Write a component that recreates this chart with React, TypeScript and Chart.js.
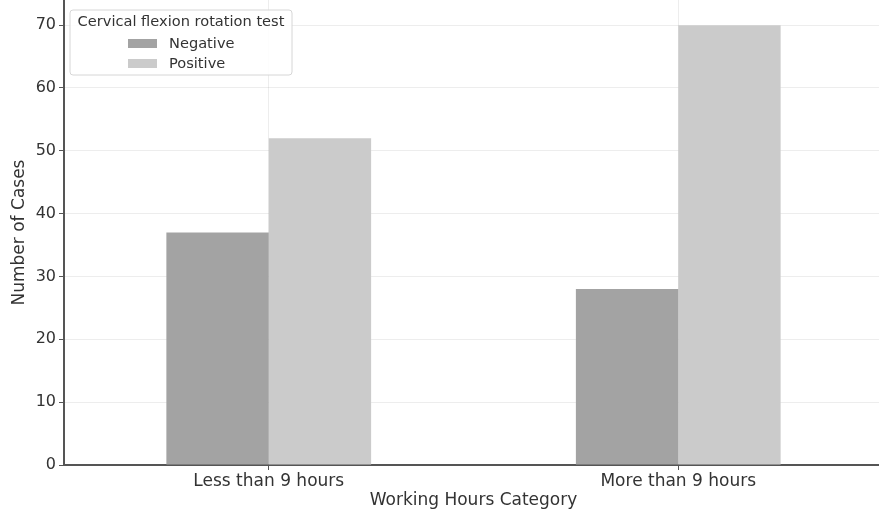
import React, { useEffect, useRef } from "react";
import { Chart, registerables } from "chart.js";

Chart.register(...registerables);

const categories = ["Less than 9 hours", "More than 9 hours"];
const negativeValues = [37, 28];
const positiveValues = [52, 70];
const seriesLabels = ["Negative", "Positive"];
const legendTitle = "Cervical flexion rotation test";
const xTitle = "Working Hours Category";
const yTitle = "Number of Cases";

const FONT = "'DejaVu Sans', sans-serif";

const legendPlugin = {
  id: "insideLegend",
  afterDraw(chart: any) {
    const { ctx, chartArea } = chart;
    const x0 = chartArea.left + 6;
    const y0 = chartArea.top + 10;
    const w = 222;
    const h = 65;
    ctx.save();
    ctx.fillStyle = "rgba(255,255,255,0.85)";
    ctx.strokeStyle = "#d6d6d6";
    ctx.lineWidth = 1;
    ctx.beginPath();
    const r = 3;
    ctx.moveTo(x0 + r, y0);
    ctx.lineTo(x0 + w - r, y0);
    ctx.quadraticCurveTo(x0 + w, y0, x0 + w, y0 + r);
    ctx.lineTo(x0 + w, y0 + h - r);
    ctx.quadraticCurveTo(x0 + w, y0 + h, x0 + w - r, y0 + h);
    ctx.lineTo(x0 + r, y0 + h);
    ctx.quadraticCurveTo(x0, y0 + h, x0, y0 + h - r);
    ctx.lineTo(x0, y0 + r);
    ctx.quadraticCurveTo(x0, y0, x0 + r, y0);
    ctx.closePath();
    ctx.fill();
    ctx.stroke();
    ctx.fillStyle = "#333";
    ctx.font = `14.6px ${FONT}`;
    ctx.textBaseline = "middle";
    ctx.textAlign = "center";
    ctx.fillText(legendTitle, x0 + w / 2, y0 + 12);
    ctx.textAlign = "left";
    chart.data.datasets.forEach((ds: any, i: number) => {
      const yy = y0 + 33 + i * 20;
      ctx.fillStyle = ds.backgroundColor;
      ctx.fillRect(x0 + 58, yy - 4, 29, 9);
      ctx.fillStyle = "#333";
      ctx.fillText(ds.label, x0 + 99, yy + 1);
    });
    ctx.restore();
  },
};

export default function App() {
  const ref = useRef<HTMLCanvasElement | null>(null);
  useEffect(() => {
    document.body.style.margin = "0";
    const canvas = ref.current!;
    const chart = new Chart(canvas, {
      type: "bar",
      data: {
        labels: categories,
        datasets: [
          {
            label: seriesLabels[0],
            data: negativeValues,
            backgroundColor: "#a3a3a3",
            categoryPercentage: 0.5,
            barPercentage: 1.0,
          },
          {
            label: seriesLabels[1],
            data: positiveValues,
            backgroundColor: "#cbcbcb",
            categoryPercentage: 0.5,
            barPercentage: 1.0,
          },
        ],
      },
      options: {
        animation: false,
        responsive: false,
        maintainAspectRatio: false,
        layout: { padding: 0 },
        plugins: {
          legend: { display: false },
          tooltip: { enabled: false },
        },
        scales: {
          x: {
            grid: {
              offset: false,
              color: "rgba(0,0,0,0.07)",
              tickLength: 5,
              tickColor: "#555",
            },
            border: { color: "#555", width: 2 },
            ticks: { color: "#333", font: { family: FONT, size: 17 }, padding: 1 },
            title: {
              display: true,
              text: xTitle,
              color: "#333",
              font: { family: FONT, size: 17 },
              padding: { top: 0, bottom: 0 },
            },
            afterFit(scale: any) {
              scale.height = 46;
              scale.paddingLeft = 0;
              scale.paddingRight = 0;
            },
          },
          y: {
            min: 0,
            max: 74,
            grid: {
              color: "rgba(0,0,0,0.07)",
              tickLength: 5,
              tickColor: "#555",
            },
            border: { color: "#555", width: 2 },
            ticks: {
              stepSize: 10,
              color: "#333",
              font: { family: FONT, size: 16 },
              padding: 3,
            },
            afterBuildTicks(scale: any) {
              scale.ticks = scale.ticks.filter((t: any) => t.value % 10 === 0);
            },
            title: {
              display: true,
              text: yTitle,
              color: "#333",
              font: { family: FONT, size: 17 },
              padding: { top: 9, bottom: 0 },
            },
            afterFit(scale: any) {
              scale.width = 64;
              scale.paddingTop = 0;
              scale.paddingBottom = 0;
            },
          },
        },
      },
      plugins: [legendPlugin],
    });
    return () => chart.destroy();
  }, []);
  return (
    <div style={{ width: 879, height: 511, overflow: "hidden" }}>
      <canvas ref={ref} width={883} height={511} style={{ display: "block" }} />
    </div>
  );
}
